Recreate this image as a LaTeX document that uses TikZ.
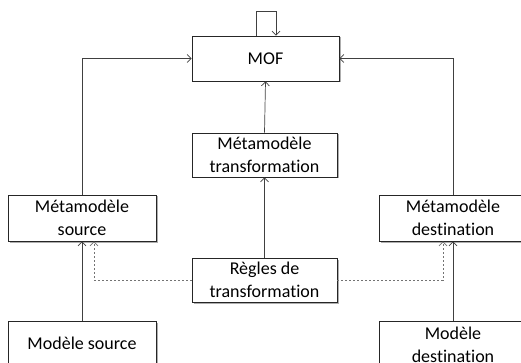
\documentclass[tikz,border=0pt]{standalone}
\usepackage{fontspec}
\setmainfont[Ligatures=NoCommon]{Carlito}
\usetikzlibrary{arrows.meta,shadows}
\begin{document}
\begin{tikzpicture}[x=1pt,y=-1pt,
  box/.style={draw=black!85,line width=0.8pt,fill=white,align=center,
    inner sep=0pt,font=\fontsize{18}{22.5}\selectfont,
    drop shadow={shadow xshift=1.5pt,shadow yshift=-1.5pt,fill=black!45,opacity=0.7}},
  arr/.style={draw=black!75,line width=0.7pt,-{Straight Barb[length=4pt,width=8pt]}},
  darr/.style={draw=black!55,line width=0.7pt,dash pattern=on 2pt off 2pt,-{Straight Barb[length=4pt,width=8pt]}}]
\useasboundingbox (0,0) rectangle (521,363);
\clip (0,0) rectangle (521,363);
\node[box,minimum width=147pt,minimum height=45pt] (MOF) at (265.5,58.5) {MOF};
\node[box,minimum width=145pt,minimum height=44pt] (MT) at (264.5,155) {Métamodèle\\transformation};
\node[box,minimum width=145pt,minimum height=44pt] (R) at (264.5,280) {Règles de\\transformation};
\node[box,minimum width=148pt,minimum height=46pt] (MS) at (82,218) {Métamodèle\\source};
\node[box,minimum width=148pt,minimum height=46pt] (MD) at (453,218) {Métamodèle\\destination};
\node[box,minimum width=148pt,minimum height=44pt] (S) at (82,343) {Modèle source};
\node[box,minimum width=148pt,minimum height=48pt] (D) at (453,345) {Modèle\\destination};
\draw[arr] ([xshift=-9.5pt]MOF.north) -- ++(0,24pt) -| ([xshift=10.5pt]MOF.north);
\draw[arr] (MT.north) -- (MOF.south);
\draw[arr] (R.north) -- (MT.south);
\draw[arr] (MS.north) |- (MOF.west);
\draw[arr] (MD.north) |- (MOF.east);
\draw[arr] (S.north) -- (MS.south);
\draw[arr] (D.north) -- (MD.south);
\draw[darr] (R.west) -| ([xshift=12pt]MS.south);
\draw[darr] (R.east) -| ([xshift=-10pt]MD.south);
\end{tikzpicture}
\end{document}
